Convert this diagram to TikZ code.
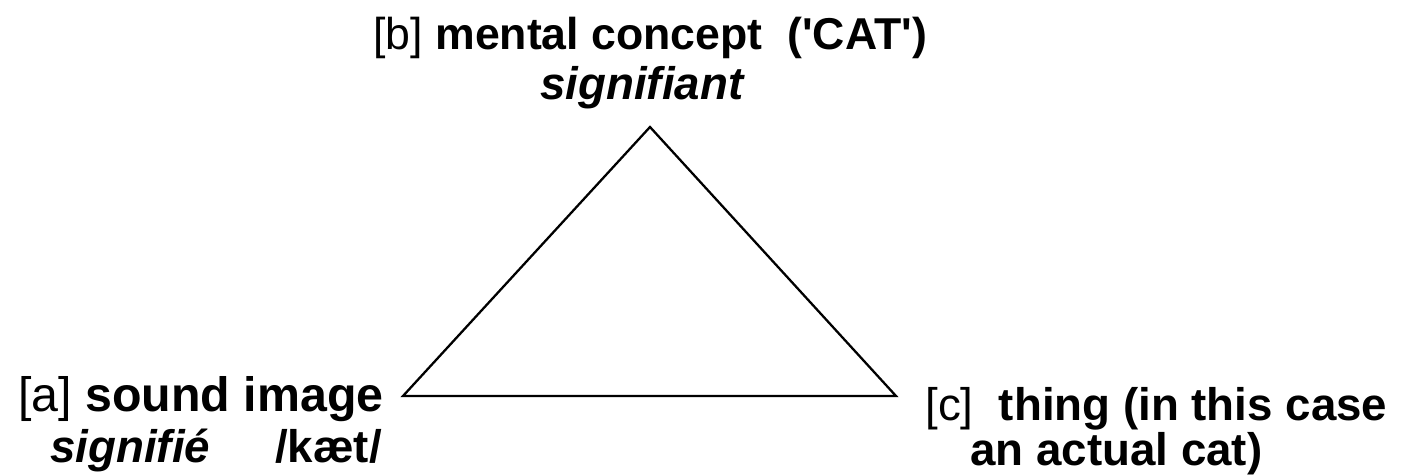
\documentclass[tikz,border=0pt]{standalone}
\usepackage{fontspec}
\setmainfont{Liberation Sans}
\usepackage{tikz}

\begin{document}
\begin{tikzpicture}[
  x=0.02cm, y=-0.02cm,
  lbl/.style={inner sep=0pt, anchor=base west, font=\fontsize{26}{30}\selectfont},
  side/.style={line width=1.3pt, line join=miter},
]
\useasboundingbox (0,0) rectangle (1418,476);

% corners of the triangle
\coordinate (b) at (650,127);
\coordinate (a) at (403,396);
\coordinate (c) at (896,396);

\node[lbl, font=\fontsize{25.4}{30}\selectfont] (blab) at (373,50) {[b] \textbf{mental concept\ \ (\textquotesingle CAT\textquotesingle)}};
\node[lbl] (bsig) at (540,100) {\textbf{\textit{signifiant}}};

\node[lbl, font=\fontsize{27.5}{30}\selectfont] (alab) at (18,412) {[a] \textbf{sound image}};
\node[lbl] (asig) at (50,462) {\textbf{\textit{signifié}}\hspace{1.3cm}\textbf{/kæt/}};

\node[lbl] (clab) at (925,420) {[c]\ \ \textbf{thing (in this case}};
\node[lbl] (cact) at (970,465) {\textbf{an actual cat)}};

\draw[side] (a) -- (b) -- (c) -- cycle;
\end{tikzpicture}
\end{document}
